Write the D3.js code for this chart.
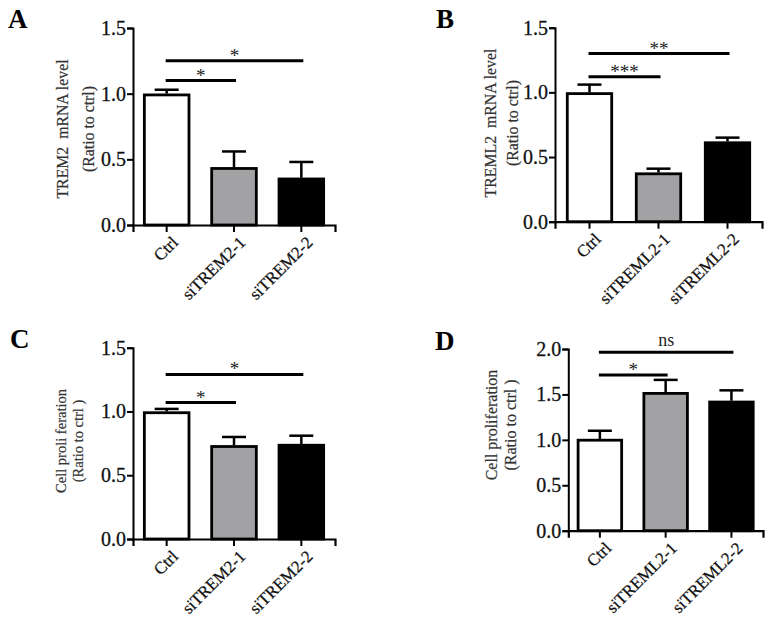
<!DOCTYPE html>
<html><head><meta charset="utf-8">
<script src="https://cdn.jsdelivr.net/npm/d3@7"></script>
<style>
html,body{margin:0;padding:0;background:#fff;}
text{font-family:"Liberation Serif","Times New Roman",serif;white-space:pre;}
</style></head>
<body>
<svg id="chart" width="771" height="623"></svg>
<script>
// ---- data ----
const catsTREM2 = ["Ctrl", "siTREM2-1", "siTREM2-2"];
const catsTREML2 = ["Ctrl", "siTREML2-1", "siTREML2-2"];
const fills = ["#ffffff", "#a2a2a4", "#000000"];

const valuesA = [1.00, 0.44, 0.36];
const errorsA = [0.03, 0.12, 0.12];
const valuesB = [1.00, 0.38, 0.62];
const errorsB = [0.06, 0.03, 0.03];
const valuesC = [1.00, 0.735, 0.745];
const errorsC = [0.02, 0.065, 0.065];
const valuesD = [1.01, 1.525, 1.43];
const errorsD = [0.09, 0.135, 0.115];

const ticks15 = [0, 0.5, 1.0, 1.5];
const ticks20 = [0, 0.5, 1.0, 1.5, 2.0];

// significance brackets: [fromIndex, toIndex, level, label]
const sigA = [[0, 1, 1.10, "*"], [0, 2, 1.25, "*"]];
const sigB = [[0, 1, 1.12, "***"], [0, 2, 1.30, "**"]];
const sigC = [[0, 1, 1.07, "*"], [0, 2, 1.29, "*"]];
const sigD = [[0, 1, 1.715, "*"], [0, 2, 1.965, "ns"]];

const panels = [
  {letter:"A", lx:8, ly:28, cats:catsTREM2, values:valuesA, errors:errorsA, ticks:ticks15, ymax:1.5, sig:sigA,
   x0:133, x1:335, yTop:28, yBot:225, pIn:0.3, pOut:0.15,
   ylab:["TREM2  mRNA level","(Ratio to ctrl)"], ylx:[68,94], ylc:129, ylfs:15.8},
  {letter:"B", lx:436, ly:28, cats:catsTREML2, values:valuesB, errors:errorsB, ticks:ticks15, ymax:1.5, sig:sigB,
   x0:555, x1:762, yTop:27.7, yBot:221.7, pIn:0.32, pOut:0.16,
   ylab:["TREML2  mRNA level","(Ratio to ctrl)"], ylx:[496,518], ylc:123, ylfs:15.8},
  {letter:"C", lx:10, ly:348, cats:catsTREM2, values:valuesC, errors:errorsC, ticks:ticks15, ymax:1.5, sig:sigC,
   x0:133, x1:335, yTop:347.7, yBot:539, pIn:0.3, pOut:0.15,
   ylab:["Cell proli feration","(Ratio to ctrl )"], ylx:[66,83], ylc:441, ylfs:14.5},
  {letter:"D", lx:435, ly:350, cats:catsTREML2, values:valuesD, errors:errorsD, ticks:ticks20, ymax:2.0, sig:sigD,
   x0:568.3, x1:763, yTop:349, yBot:530.7, pIn:0.3, pOut:0.13,
   ylab:["Cell proliferation","(Ratio to ctrl )"], ylx:[497,516], ylc:425, ylfs:16}
];

const svg = d3.select("#chart");
const FONT = '"Liberation Serif","Times New Roman",serif';

panels.forEach(p => {
  const g = svg.append("g");
  const x = d3.scaleBand().domain(p.cats).range([p.x0, p.x1]).paddingInner(p.pIn).paddingOuter(p.pOut);
  const y = d3.scaleLinear().domain([0, p.ymax]).range([p.yBot, p.yTop]);

  // panel letter
  g.append("text").attr("x", p.lx).attr("y", p.ly)
    .attr("font-size", 27).attr("font-weight", "bold").attr("fill", "#000").text(p.letter);

  const data = p.cats.map((c, i) => ({c, v:p.values[i], e:p.errors[i], f:fills[i]}));
  const bw = x.bandwidth();
  // error bars (upper only)
  g.selectAll(".err").data(data).enter().append("line")
    .attr("x1", d => x(d.c) + bw/2).attr("x2", d => x(d.c) + bw/2)
    .attr("y1", d => y(d.v)).attr("y2", d => y(d.v + d.e))
    .attr("stroke", "#000").attr("stroke-width", 2.5);
  g.selectAll(".cap").data(data).enter().append("line")
    .attr("x1", d => x(d.c) + bw/2 - 12).attr("x2", d => x(d.c) + bw/2 + 12)
    .attr("y1", d => y(d.v + d.e)).attr("y2", d => y(d.v + d.e))
    .attr("stroke", "#000").attr("stroke-width", 2.5);
  // bars
  g.selectAll(".bar").data(data).enter().append("rect")
    .attr("x", d => x(d.c) + 1.25).attr("width", bw - 2.5)
    .attr("y", d => y(d.v) + 1.25).attr("height", d => y(0) - y(d.v) - 1.25)
    .attr("fill", d => d.f).attr("stroke", "#000").attr("stroke-width", 2.8);

  // y axis
  const ya = g.append("g").attr("transform", `translate(${p.x0},0)`)
    .call(d3.axisLeft(y).tickValues(p.ticks).tickFormat(d3.format(".1f")).tickSizeOuter(0).tickSize(6).tickPadding(1));
  ya.attr("font-family", FONT);
  ya.select(".domain").attr("stroke-width", 2);
  ya.selectAll(".tick line").attr("stroke-width", 2);
  ya.selectAll(".tick text").attr("font-size", 20).attr("fill", "#111").attr("font-family", FONT)
    .attr("stroke", "#111").attr("stroke-width", 0.3);

  // x axis
  const xa = g.append("g").attr("transform", `translate(0,${p.yBot})`)
    .call(d3.axisBottom(x).tickSizeOuter(0).tickSize(7));
  xa.attr("font-family", FONT);
  xa.select(".domain").attr("stroke-width", 2.2);
  xa.selectAll(".tick line").attr("stroke-width", 2);
  xa.selectAll(".tick text").remove();
  xa.selectAll(".tick").append("text")
    .attr("transform", "translate(4,10) rotate(-45)")
    .attr("text-anchor", "end").attr("dy", "0.7em")
    .attr("font-size", 17).attr("fill", "#111").attr("font-family", FONT)
    .attr("stroke", "#111").attr("stroke-width", 0.25)
    .text(d => d);

  // y label
  p.ylab.forEach((t, i) => {
    g.append("text")
      .attr("transform", `translate(${p.ylx[i]},${p.ylc}) rotate(-90)`)
      .attr("text-anchor", "middle").attr("font-size", p.ylfs).attr("fill", "#333")
      .attr("stroke", "#333").attr("stroke-width", 0.2)
      .style("white-space", "pre").text(t);
  });

  // significance
  p.sig.forEach(s => {
    const xa1 = x(p.cats[s[0]]) + bw/2 - 1;
    const xa2 = x(p.cats[s[1]]) + bw/2 + 2;
    const yy = y(s[2]);
    g.append("line").attr("x1", xa1).attr("x2", xa2).attr("y1", yy).attr("y2", yy)
      .attr("stroke", "#000").attr("stroke-width", 3);
    const isNs = s[3] === "ns";
    g.append("text").attr("x", (xa1 + xa2)/2).attr("y", isNs ? yy - 6 : yy + 1)
      .attr("text-anchor", "middle").attr("font-size", isNs ? 18 : 19).attr("fill", "#222")
      .text(s[3]);
  });
});
</script>
</body></html>
